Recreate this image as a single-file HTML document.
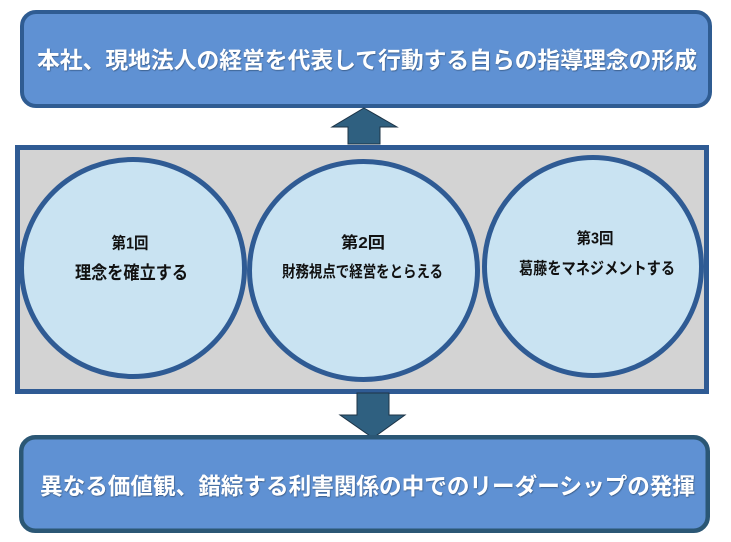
<!DOCTYPE html>
<html>
<head>
<meta charset="utf-8">
<style>
  html,body{margin:0;padding:0;background:#fff;}
  svg{display:block;}
  text{font-family:"Liberation Sans","Noto Sans CJK JP",sans-serif;}
</style>
</head>
<body>
<svg width="731" height="542" viewBox="0 0 731 542" xmlns="http://www.w3.org/2000/svg">
  <defs>
    <filter id="sh" x="-5%" y="-20%" width="110%" height="140%">
      <feDropShadow dx="0.6" dy="0.8" stdDeviation="0.5" flood-color="#203a5c" flood-opacity="0.7"/>
    </filter>
  </defs>

  <!-- Top box -->
  <rect x="22" y="12" width="688" height="94" rx="14" ry="14" fill="#5F91D3" stroke="#2F5C92" stroke-width="4"/>
  <text x="37" y="60" dominant-baseline="central" font-size="23" font-weight="bold" fill="#ffffff" textLength="660" lengthAdjust="spacingAndGlyphs" filter="url(#sh)">本社、現地法人の経営を代表して行動する自らの指導理念の形成</text>

  <!-- Up arrow -->
  <polygon points="364,108 397,127 380,127 380,144 348,144 348,127 332,127" fill="#2F6080" stroke="#1c3346" stroke-width="1"/>

  <!-- Gray container -->
  <rect x="17.5" y="147.5" width="689" height="244" fill="#D3D3D3" stroke="#2F5B94" stroke-width="5"/>

  <!-- Circles -->
  <ellipse cx="133" cy="268" rx="111.5" ry="108.5" fill="#C9E3F2" stroke="#2F5B94" stroke-width="5"/>
  <ellipse cx="363.5" cy="270.5" rx="114" ry="109" fill="#C9E3F2" stroke="#2F5B94" stroke-width="5"/>
  <ellipse cx="593" cy="266.5" rx="108.5" ry="109" fill="#C9E3F2" stroke="#2F5B94" stroke-width="5"/>

  <!-- Circle texts -->
  <text x="111.5" y="244" dominant-baseline="central" font-size="16" font-weight="bold" fill="#111" textLength="37" lengthAdjust="spacingAndGlyphs">第1回</text>
  <text x="75" y="273" dominant-baseline="central" font-size="18" font-weight="bold" fill="#111" textLength="113" lengthAdjust="spacingAndGlyphs">理念を確立する</text>

  <text x="341" y="243.5" dominant-baseline="central" font-size="16" font-weight="bold" fill="#111" textLength="44" lengthAdjust="spacingAndGlyphs">第2回</text>
  <text x="282" y="272.5" dominant-baseline="central" font-size="16" font-weight="bold" fill="#111" textLength="161" lengthAdjust="spacingAndGlyphs">財務視点で経営をとらえる</text>

  <text x="576.5" y="239" dominant-baseline="central" font-size="15.5" font-weight="bold" fill="#111" textLength="37" lengthAdjust="spacingAndGlyphs">第3回</text>
  <text x="519" y="269" dominant-baseline="central" font-size="16.5" font-weight="bold" fill="#111" textLength="156" lengthAdjust="spacingAndGlyphs">葛藤をマネジメントする</text>

  <!-- Down arrow -->
  <polygon points="357,393 389,393 389,415 405,415 373,438 340,415 357,415" fill="#2F6080" stroke="#1c3346" stroke-width="1"/>

  <!-- Bottom box -->
  <rect x="21.25" y="437.25" width="686.5" height="93.5" rx="14" ry="14" fill="#5F91D3" stroke="#2B5775" stroke-width="4.5"/>
  <text x="40" y="486" dominant-baseline="central" font-size="23" font-weight="bold" fill="#ffffff" textLength="655" lengthAdjust="spacingAndGlyphs" filter="url(#sh)">異なる価値観、錯綜する利害関係の中でのリーダーシップの発揮</text>
</svg>
</body>
</html>
